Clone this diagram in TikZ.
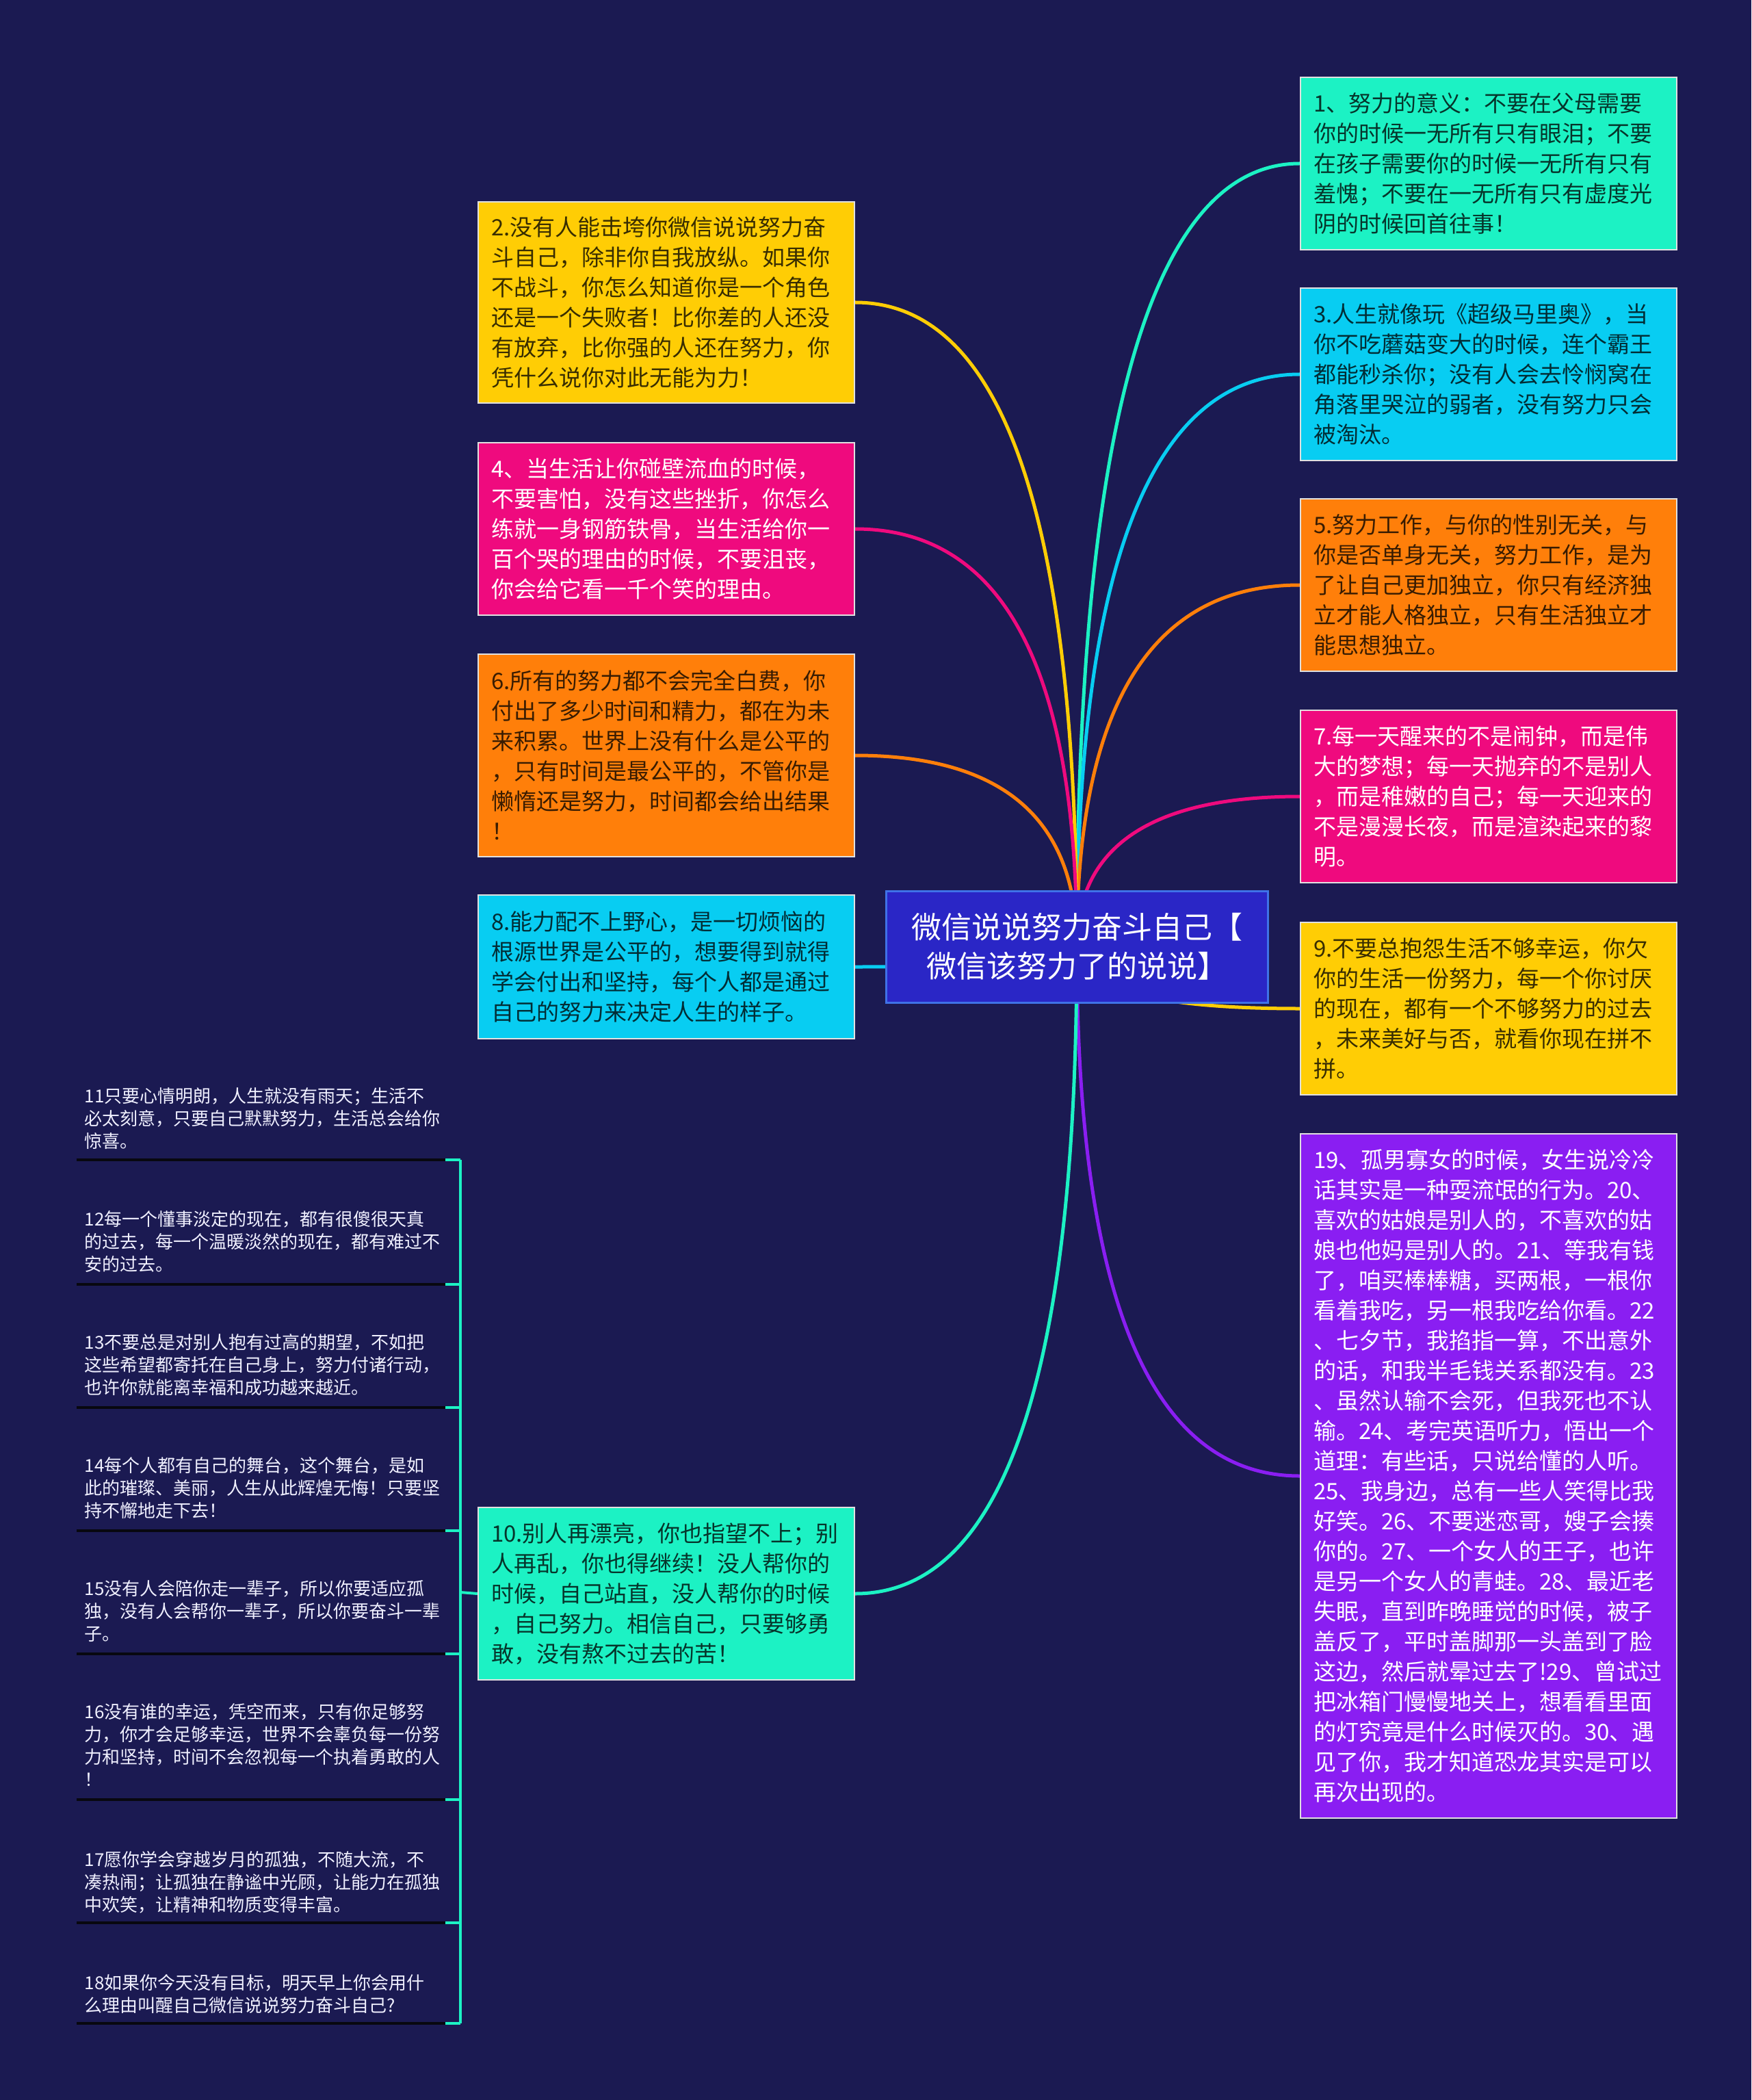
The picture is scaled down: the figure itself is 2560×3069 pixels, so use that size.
\documentclass[tikz,border=0pt]{standalone}
\usepackage{fontspec}
\setmainfont{Noto Sans CJK SC}
\usetikzlibrary{calc}
\definecolor{bgc}{HTML}{1B1A52}
\definecolor{cAqua}{HTML}{1CF2C4}
\definecolor{cCyan}{HTML}{08CDF2}
\definecolor{cOrange}{HTML}{FF7F0A}
\definecolor{cPink}{HTML}{EF0A7E}
\definecolor{cYellow}{HTML}{FFCD05}
\definecolor{cPurple}{HTML}{8A1EF2}
\definecolor{cCenter}{HTML}{2A26C6}
\definecolor{cCenterB}{HTML}{3F72E8}
\definecolor{cULine}{HTML}{08080F}
\pgfdeclarelayer{back}
\pgfdeclarelayer{lines}
\pgfsetlayers{back,lines,main}
\newcommand\mmcurve[3]{\draw[conn,draw=#1] (#2) .. controls ($(#2)!0.6667!(#2 |- #3)$) and ($(#3)!0.6667!(#2 |- #3)$) .. (#3);}
\tikzset{
  mbox/.style={draw=white!88!black, line width=0.5pt, text width=128pt, inner xsep=4.75pt, inner ysep=0pt,
    align=left, anchor=north west, font=\fontsize{8.25pt}{11pt}\selectfont, minimum height=63pt},
  darktxt/.style={fill=#1, text=#1!22!black},
  lighttxt/.style={fill=#1, text=white},
  ctrbox/.style={fill=cCenter, draw=cCenterB, line width=0.75pt, text=white, align=center,
    minimum width=139.5pt, minimum height=40.75pt, inner sep=0pt, font=\fontsize{11pt}{14.25pt}\selectfont},
  conn/.style={line width=1.25pt},
  listtxt/.style={anchor=base west, text width=150pt, align=left, inner sep=0pt, text=white!94!blue,
    font=\fontsize{6.5pt}{8.25pt}\selectfont},
  uline/.style={draw=cULine, line width=1pt},
  brk/.style={draw=cAqua, line width=1pt},
}
\begin{document}
\begin{tikzpicture}[x=0.25pt, y=-0.25pt]
\begin{pgfonlayer}{back}
  \fill[bgc] (0,0) rectangle (2560,3069);
\end{pgfonlayer}
\useasboundingbox (0,0) rectangle (2560,3069);

% center
\node[ctrbox] (ctr) at (1574,1383.5) {微信说说努力奋斗自己【\\微信该努力了的说说】};

% right column
\node[mbox, darktxt=cAqua] (b1) at (1900,112) {1、努力的意义：不要在父母需要\\你的时候一无所有只有眼泪；不要\\在孩子需要你的时候一无所有只有\\羞愧；不要在一无所有只有虚度光\\阴的时候回首往事！};
\node[mbox, darktxt=cCyan] (b3) at (1900,420) {3.人生就像玩《超级马里奥》，当\\你不吃蘑菇变大的时候，连个霸王\\都能秒杀你；没有人会去怜悯窝在\\角落里哭泣的弱者，没有努力只会\\被淘汰。};
\node[mbox, darktxt=cOrange] (b5) at (1900,728) {5.努力工作，与你的性别无关，与\\你是否单身无关，努力工作，是为\\了让自己更加独立，你只有经济独\\立才能人格独立，只有生活独立才\\能思想独立。};
\node[mbox, lighttxt=cPink] (b7) at (1900,1037) {7.每一天醒来的不是闹钟，而是伟\\大的梦想；每一天抛弃的不是别人\\，而是稚嫩的自己；每一天迎来的\\不是漫漫长夜，而是渲染起来的黎\\明。};
\node[mbox, darktxt=cYellow] (b9) at (1900,1347) {9.不要总抱怨生活不够幸运，你欠\\你的生活一份努力，每一个你讨厌\\的现在，都有一个不够努力的过去\\，未来美好与否，就看你现在拼不\\拼。};
\node[mbox, lighttxt=cPurple, minimum height=250pt] (b19) at (1900,1656) {19、孤男寡女的时候，女生说冷冷\\话其实是一种耍流氓的行为。20、\\喜欢的姑娘是别人的，不喜欢的姑\\娘也他妈是别人的。21、等我有钱\\了，咱买棒棒糖，买两根，一根你\\看着我吃，另一根我吃给你看。22\\、七夕节，我掐指一算，不出意外\\的话，和我半毛钱关系都没有。23\\、虽然认输不会死，但我死也不认\\输。24、考完英语听力，悟出一个\\道理：有些话，只说给懂的人听。\\25、我身边，总有一些人笑得比我\\好笑。26、不要迷恋哥，嫂子会揍\\你的。27、一个女人的王子，也许\\是另一个女人的青蛙。28、最近老\\失眠，直到昨晚睡觉的时候，被子\\盖反了，平时盖脚那一头盖到了脸\\这边，然后就晕过去了!29、曾试过\\把冰箱门慢慢地关上，想看看里面\\的灯究竟是什么时候灭的。30、遇\\见了你，我才知道恐龙其实是可以\\再次出现的。};

% left column
\node[mbox, darktxt=cYellow, minimum height=73.5pt] (b2) at (698,294) {2.没有人能击垮你微信说说努力奋\\斗自己，除非你自我放纵。如果你\\不战斗，你怎么知道你是一个角色\\还是一个失败者！比你差的人还没\\有放弃，比你强的人还在努力，你\\凭什么说你对此无能为力！};
\node[mbox, lighttxt=cPink] (b4) at (698,646) {4、当生活让你碰壁流血的时候，\\不要害怕，没有这些挫折，你怎么\\练就一身钢筋铁骨，当生活给你一\\百个哭的理由的时候，不要沮丧，\\你会给它看一千个笑的理由。};
\node[mbox, darktxt=cOrange, minimum height=74pt] (b6) at (698,955) {6.所有的努力都不会完全白费，你\\付出了多少时间和精力，都在为未\\来积累。世界上没有什么是公平的\\，只有时间是最公平的，不管你是\\懒惰还是努力，时间都会给出结果\\！};
\node[mbox, darktxt=cCyan, minimum height=52.5pt] (b8) at (698,1307) {8.能力配不上野心，是一切烦恼的\\根源世界是公平的，想要得到就得\\学会付出和坚持，每个人都是通过\\自己的努力来决定人生的样子。};
\node[mbox, darktxt=cAqua] (b10) at (698,2202) {10.别人再漂亮，你也指望不上；别\\人再乱，你也得继续！没人帮你的\\时候，自己站直，没人帮你的时候\\，自己努力。相信自己，只要够勇\\敢，没有熬不过去的苦！};

% list items
\node[listtxt] (i11) at (123,1611) {11只要心情明朗，人生就没有雨天；生活不\\必太刻意，只要自己默默努力，生活总会给你\\惊喜。};
\node[listtxt] (i12) at (123,1791) {12每一个懂事淡定的现在，都有很傻很天真\\的过去，每一个温暖淡然的现在，都有难过不\\安的过去。};
\node[listtxt] (i13) at (123,1971) {13不要总是对别人抱有过高的期望，不如把\\这些希望都寄托在自己身上，努力付诸行动，\\也许你就能离幸福和成功越来越近。};
\node[listtxt] (i14) at (123,2151) {14每个人都有自己的舞台，这个舞台，是如\\此的璀璨、美丽，人生从此辉煌无悔！只要坚\\持不懈地走下去！};
\node[listtxt] (i15) at (123,2331) {15没有人会陪你走一辈子，所以你要适应孤\\独，没有人会帮你一辈子，所以你要奋斗一辈\\子。};
\node[listtxt] (i16) at (123,2511) {16没有谁的幸运，凭空而来，只有你足够努\\力，你才会足够幸运，世界不会辜负每一份努\\力和坚持，时间不会忽视每一个执着勇敢的人\\！};
\node[listtxt] (i17) at (123,2727) {17愿你学会穿越岁月的孤独，不随大流，不\\凑热闹；让孤独在静谧中光顾，让能力在孤独\\中欢笑，让精神和物质变得丰富。};
\node[listtxt] (i18) at (123,2907) {18如果你今天没有目标，明天早上你会用什\\么理由叫醒自己微信说说努力奋斗自己?};

% underline / bracket coordinates
\foreach \n/\u in {11/1695,12/1877,13/2057,14/2237,15/2417,16/2630,17/2810,18/2957}{
  \coordinate (ua\n) at (112,\u);
  \coordinate (ub\n) at (651,\u);
  \coordinate (uc\n) at (673,\u);
}
\coordinate (brkc) at (673,2327);

\begin{pgfonlayer}{lines}
  \mmcurve{cAqua}{ctr.center}{b1.west}
  \mmcurve{cCyan}{ctr.center}{b3.west}
  \mmcurve{cOrange}{ctr.center}{b5.west}
  \mmcurve{cPink}{ctr.center}{b7.west}
  \mmcurve{cYellow}{ctr.center}{b9.west}
  \mmcurve{cPurple}{ctr.center}{b19.west}
  \mmcurve{cYellow}{ctr.center}{b2.east}
  \mmcurve{cPink}{ctr.center}{b4.east}
  \mmcurve{cOrange}{ctr.center}{b6.east}
  \mmcurve{cCyan}{ctr.center}{b8.east}
  \mmcurve{cAqua}{ctr.center}{b10.east}
  \draw[brk] (b10.west) -- (brkc);
  \draw[brk] (uc11) -- (uc18);
  \foreach \n in {11,12,13,14,15,16,17,18}{
    \draw[uline] (ua\n) -- (ub\n);
    \draw[brk] (ub\n) -- (uc\n);
  }
\end{pgfonlayer}
\end{tikzpicture}
\end{document}
